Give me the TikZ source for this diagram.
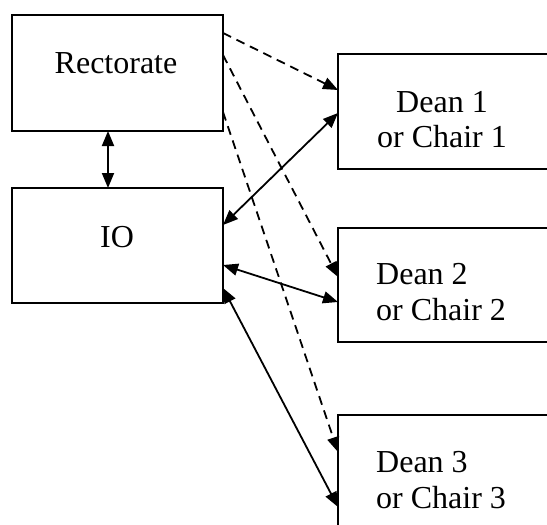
\documentclass[tikz,border=0pt]{standalone}
\usepackage{fontspec}
\setmainfont{Liberation Serif}
\usetikzlibrary{arrows.meta,calc}
\tikzset{
  box/.style={draw=black, line width=1.8pt, inner sep=0pt, outer sep=0pt, anchor=north west},
  lbl/.style={inner sep=0pt, font=\fontsize{32}{36}\selectfont},
  tip/.tip={Triangle[length=15pt,width=12pt]},
  link/.style={line width=1.8pt, -tip},
  both/.style={line width=1.8pt, tip-tip},
  report/.style={link, dash pattern=on 9pt off 6pt}
}
\begin{document}
\begin{tikzpicture}[x=1pt,y=-1pt]
  \useasboundingbox (0,0) rectangle (547,525);
  \clip (0,0) rectangle (547,525);

  % boxes
  \node[box, minimum width=211pt, minimum height=116pt] (rect) at (12,15) {};
  \node[box, minimum width=211pt, minimum height=115pt] (io) at (12,188) {};
  \node[box, minimum width=230pt, minimum height=115pt] (d1) at (338,54) {};
  \node[box, minimum width=230pt, minimum height=114pt] (d2) at (338,228) {};
  \node[box, minimum width=230pt, minimum height=130pt] (d3) at (338,415) {};

  % labels
  \node[lbl, anchor=base] (trect) at (116,73) {Rectorate};
  \node[lbl, anchor=base] (tio) at (117,247) {IO};
  \node[lbl, anchor=base] (td1a) at (442,112) {Dean 1};
  \node[lbl, anchor=base] (td1b) at (442,147) {or Chair 1};
  \node[lbl, anchor=base west] (td2a) at (376,284) {Dean 2};
  \node[lbl, anchor=base west] (td2b) at (376,320) {or Chair 2};
  \node[lbl, anchor=base west] (td3a) at (376,472) {Dean 3};
  \node[lbl, anchor=base west] (td3b) at (376,508) {or Chair 3};

  % Rectorate <-> IO
  \draw[both] ($(rect.south west)+(96,0)$) -- ($(io.north west)+(96,0)$);

  % dashed lines from the Rectorate
  \draw[report] ($(rect.north east)+(0,18)$) -- ($(d1.north west)+(0,36)$);
  \draw[report] ($(rect.north east)+(0,40)$) -- ($(d2.north west)+(0,49)$);
  \draw[report] ($(rect.north east)+(0,97)$) -- ($(d3.north west)+(0,37)$);

  % IO <-> deans
  \draw[both] ($(io.north east)+(0,37)$) -- ($(d1.north west)+(0,59)$);
  \draw[both] ($(io.north east)+(0,77)$) -- ($(d2.north west)+(0,74)$);
  \draw[both] ($(io.north east)+(0,100)$) -- ($(d3.north west)+(0,92)$);
\end{tikzpicture}
\end{document}
